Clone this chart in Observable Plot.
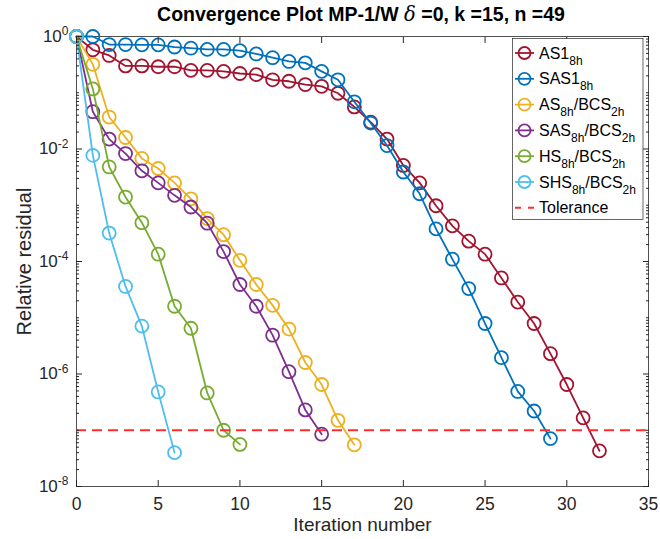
<!DOCTYPE html>
<html><head><meta charset="utf-8">
<script src="https://cdn.jsdelivr.net/npm/d3@7"></script>
<script src="https://cdn.jsdelivr.net/npm/@observablehq/plot@0.6"></script>
<style>
html,body{margin:0;padding:0;background:#fff}
svg{font-family:"Liberation Sans",Arial,Helvetica,sans-serif}
</style>
</head><body><div id="chart"></div>
<script>
// ---- data (relative residual per iteration, iteration = index) ----
const seriesNames = ["AS1_8h", "SAS1_8h", "AS_8h/BCS_2h", "SAS_8h/BCS_2h", "HS_8h/BCS_2h", "SHS_8h/BCS_2h"];
const resAS1 = [1, 0.58, 0.46, 0.30, 0.30, 0.29, 0.29, 0.25, 0.25, 0.24, 0.22, 0.21, 0.17, 0.16, 0.14, 0.13, 0.098, 0.056, 0.030, 0.015, 5.1e-3, 2.5e-3, 9.8e-4, 4.3e-4, 2.3e-4, 1.35e-4, 5.1e-5, 1.9e-5, 7.9e-6, 2.3e-6, 6.5e-7, 1.66e-7, 4.3e-8];
const resSAS1 = [1, 1.0, 0.72, 0.72, 0.71, 0.71, 0.65, 0.62, 0.59, 0.59, 0.56, 0.49, 0.42, 0.36, 0.34, 0.24, 0.17, 0.069, 0.029, 0.0115, 3.9e-3, 1.6e-3, 3.8e-4, 1.1e-4, 3.3e-5, 7.9e-6, 1.95e-6, 4.9e-7, 2.2e-7, 7.1e-8];
const resAS = [1, 0.32, 0.037, 0.016, 6.8e-3, 4.5e-3, 2.5e-3, 1.3e-3, 5.8e-4, 3.0e-4, 1.05e-4, 3.9e-5, 1.66e-5, 6.3e-6, 1.6e-6, 6.5e-7, 1.5e-7, 5.5e-8];
const resSAS = [1, 0.046, 0.015, 8.3e-3, 4.1e-3, 2.5e-3, 1.5e-3, 9.3e-4, 4.8e-4, 1.5e-4, 3.9e-5, 1.6e-5, 4.9e-6, 1.1e-6, 2.3e-7, 8.5e-8];
const resHS = [1, 0.117, 4.8e-3, 1.4e-3, 4.9e-4, 1.35e-4, 1.6e-5, 6.5e-6, 4.6e-7, 1.0e-7, 5.6e-8];
const resSHS = [1, 7.7e-3, 3.2e-4, 3.6e-5, 7.1e-6, 4.8e-7, 4.0e-8];
const tolerance = 1e-7;
const toleranceName = "Tolerance";
const xTicks = [0, 5, 10, 15, 20, 25, 30, 35];
const yMajor = [1e-8, 1e-6, 1e-4, 1e-2, 1];
const titleParts = [["Convergence Plot MP-1/W ", "b"], ["δ", "i"], [" =0, k =15, n =49", "b"]];
const xLabel = "Iteration number";
const yLabel = "Relative residual";

// ---- styles ----
const colors = ["#A2142F", "#0072BD", "#EDB120", "#7E2F8E", "#77AC30", "#4DBEEE"];
const allRes = [resAS1, resSAS1, resAS, resSAS, resHS, resSHS];
const series = allRes.map((arr, s) => arr.map((v, i) => ({iter: i, res: v, s})));
const yMinor = d3.range(-8, 0).flatMap(e => d3.range(1, 10).map(k => ({k, e})))
  .filter(({k, e}) => !(k === 1 && e % 2 === 0)).map(({k, e}) => k * Math.pow(10, e));

const axisColor = "#262626";
const marks = [];
series.forEach((d, s) => {
  marks.push(Plot.line(d, {x: "iter", y: "res", stroke: colors[s], strokeWidth: 1.8}));
  marks.push(Plot.dot(d, {x: "iter", y: "res", r: 6.5, stroke: colors[s], strokeWidth: 1.8, fill: "none"}));
});
marks.push(Plot.ruleY([tolerance], {stroke: "#ff2d2d", strokeWidth: 2, strokeDasharray: "10,6"}));

const tickOpts = {label: null, stroke: axisColor, tickFormat: () => ""};
const plot = Plot.plot({
  width: 660, height: 539,
  marginLeft: 76, marginRight: 12, marginTop: 36, marginBottom: 53,
  style: {background: "#fff", color: axisColor, fontFamily: "Liberation Sans, Arial, sans-serif", fontSize: "17px"},
  x: {domain: [0, 35]},
  y: {type: "log", domain: [1e-8, 1]},
  marks: [
    Plot.frame({stroke: axisColor, strokeWidth: 0.8}),
    ...marks,
    Plot.text(xTicks, {x: d => d, frameAnchor: "bottom", lineAnchor: "middle", textAnchor: "middle", dy: 18, fontSize: 17.5, fill: axisColor}),
    Plot.axisX({anchor: "bottom", ticks: xTicks, tickSize: -6, ...tickOpts}),
    Plot.axisX({anchor: "top", ticks: xTicks, tickSize: -6, ...tickOpts}),
    Plot.axisY({anchor: "left", ticks: yMajor, tickSize: 0, tickPadding: 8, fontSize: 17, label: null, fill: axisColor,
      tickFormat: d => "10^" + Math.round(Math.log10(d))}),
    Plot.axisY({anchor: "left", ticks: yMajor, tickSize: -6, ...tickOpts}),
    Plot.axisY({anchor: "left", ticks: yMinor, tickSize: -3, ...tickOpts}),
    Plot.axisY({anchor: "right", ticks: yMajor, tickSize: -6, ...tickOpts}),
    Plot.axisY({anchor: "right", ticks: yMinor, tickSize: -3, ...tickOpts}),
    Plot.text([xLabel], {frameAnchor: "bottom", lineAnchor: "middle", textAnchor: "middle", dy: 38, fontSize: 19, fill: axisColor}),
    Plot.text([yLabel], {frameAnchor: "left", lineAnchor: "middle", textAnchor: "middle", rotate: -90, dx: -52, fontSize: 20, fill: axisColor})
  ]
});
document.getElementById("chart").appendChild(plot);

const svg = d3.select(plot);
// drop empty tick-label texts
svg.selectAll("text").filter(function() { return this.textContent === ""; }).remove();
// superscript exponents on y tick labels
svg.selectAll("text").filter(function() { return /^10\^/.test(this.textContent); }).each(function() {
  const t = d3.select(this);
  const exp = this.textContent.split("^")[1];
  t.text("10");
  t.append("tspan").attr("dy", "-0.55em").attr("font-size", "12px").text(exp);
});

// title
const title = svg.append("text").attr("x", 361).attr("y", 21).attr("text-anchor", "middle")
  .attr("font-size", 19.5).attr("fill", "#000");
titleParts.forEach(([txt, st]) => {
  const sp = title.append("tspan").text(txt);
  if (st === "b") sp.attr("font-weight", "bold");
  else sp.attr("font-style", "italic").attr("font-family", "DejaVu Serif, serif");
});

// legend
const lg = svg.append("g").attr("text-anchor", "start");
lg.append("rect").attr("x", 512.5).attr("y", 38.5).attr("width", 130.5).attr("height", 181)
  .attr("fill", "#fff").attr("stroke", axisColor).attr("stroke-width", 0.7);
const legendNames = [...seriesNames, toleranceName];
legendNames.forEach((name, i) => {
  const cy = 53 + i * 25.8;
  if (i < seriesNames.length) {
    lg.append("line").attr("x1", 515).attr("x2", 534).attr("y1", cy).attr("y2", cy)
      .attr("stroke", colors[i]).attr("stroke-width", 1.8);
    lg.append("circle").attr("cx", 524.5).attr("cy", cy).attr("r", 6).attr("fill", "none")
      .attr("stroke", colors[i]).attr("stroke-width", 1.8);
  } else {
    lg.append("line").attr("x1", 515).attr("x2", 534).attr("y1", cy).attr("y2", cy)
      .attr("stroke", "#ff2d2d").attr("stroke-width", 2).attr("stroke-dasharray", "6,7");
  }
  const t = lg.append("text").attr("x", 539).attr("y", cy + 5.5).attr("font-size", 16)
    .attr("fill", "#000").attr("text-anchor", "start");
  // parse subscripts: "_xx" until "/" or end
  const parts = name.split(/(_[^/]+)/).filter(p => p.length);
  let back = 0;
  parts.forEach(p => {
    if (p.startsWith("_")) {
      t.append("tspan").attr("dy", 6).attr("font-size", 12).text(p.slice(1));
      back = -6;
    } else {
      const sp = t.append("tspan").text(p);
      if (back) sp.attr("dy", back);
      back = 0;
    }
  });
});
</script>
</body></html>
